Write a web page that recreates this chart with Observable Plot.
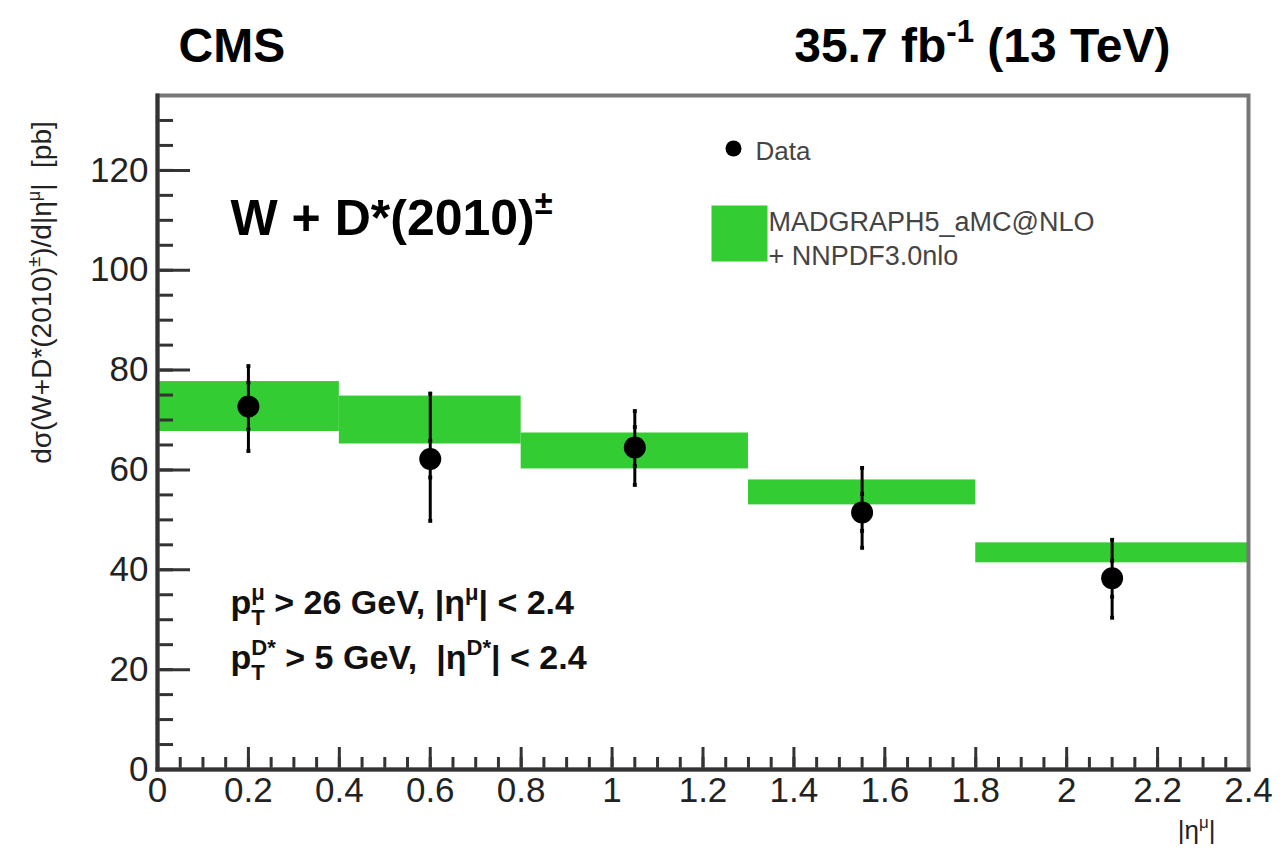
<!DOCTYPE html>
<html>
<head>
<meta charset="utf-8">
<script src="https://cdn.jsdelivr.net/npm/d3@7"></script>
<script src="https://cdn.jsdelivr.net/npm/@observablehq/plot@0.6"></script>
<style>
  body { margin: 0; background: #fff; }
  svg text { white-space: pre; }
</style>
</head>
<body>
<div id="chart"></div>
<script>
// ---- data ----
const binLo = [0, 0.4, 0.8, 1.3, 1.8];
const binHi = [0.4, 0.8, 1.3, 1.8, 2.4];
const mcUp = [77.7, 74.8, 67.4, 58.0, 45.4];
const mcDown = [67.7, 65.2, 60.2, 53.0, 41.4];

const binCenter = [0.2, 0.6, 1.05, 1.55, 2.1];
const dataValue = [72.7, 62.2, 64.5, 51.5, 38.3];
const totalUp = [80.8, 75.3, 71.8, 60.4, 46.0];
const totalDown = [63.8, 49.8, 57.0, 44.4, 30.4];
const statUp = [77.5, 65.8, 68.6, 55.2, 41.8];
const statDown = [68.1, 58.5, 60.8, 47.8, 34.6];

const yMajorTicks = [0, 20, 40, 60, 80, 100, 120];
const yMinorTicks = [0,5,10,15,20,25,30,35,40,45,50,55,60,65,70,75,80,85,90,95,100,105,110,115,120,125,130,135];
const xMajorTicks = [0, 0.2, 0.4, 0.6, 0.8, 1, 1.2, 1.4, 1.6, 1.8, 2, 2.2, 2.4];
const xMinorTicks = [0,0.05,0.1,0.15,0.2,0.25,0.3,0.35,0.4,0.45,0.5,0.55,0.6,0.65,0.7,0.75,0.8,0.85,0.9,0.95,1,1.05,1.1,1.15,1.2,1.25,1.3,1.35,1.4,1.45,1.5,1.55,1.6,1.65,1.7,1.75,1.8,1.85,1.9,1.95,2,2.05,2.1,2.15,2.2,2.25,2.3,2.35,2.4];

// ---- rich text (sub/superscripts) ----
const richText = {
  "§lumi": [["35.7 fb"], ["-1", "sup"], [" (13 TeV)"]],
  "§wd": [["W + D*(2010)"], ["±", "sup"]],
  "§cut1": [["p"], ["T", "sub"], ["μ", "supback"], [" > 26 GeV, |η"], ["μ", "sup"], ["| < 2.4"]],
  "§cut2": [["p"], ["T", "sub"], ["D*", "supback"], [" > 5 GeV,  |η"], ["D*", "sup"], ["| < 2.4"]],
  "§ylab": [["dσ(W+D*(2010)"], ["±", "sup"], [")/d|η"], ["μ", "sup"], ["|  [pb]"]],
  "§xlab": [["|η"], ["μ", "sup"], ["|"]]
};

const FONT = '"Liberation Sans", Arial, Helvetica, sans-serif';
const GREEN = "#33cc33";

const bins = binLo.map((lo, i) => ({lo, hi: binHi[i], up: mcUp[i], down: mcDown[i]}));
const points = binCenter.map((x, i) => ({x, y: dataValue[i], up: totalUp[i], down: totalDown[i], su: statUp[i], sd: statDown[i]}));
const caps = points.flatMap(p => [p.up, p.down, p.su, p.sd].map(y => ({x: p.x, y})));

const blank = () => "";

const plot = Plot.plot({
  width: 1286,
  height: 848,
  marginLeft: 157,
  marginRight: 38,
  marginTop: 95,
  marginBottom: 79,
  style: {fontFamily: FONT, background: "white", overflow: "visible", color: "#222"},
  x: {domain: [0, 2.4]},
  y: {domain: [0, 135]},
  marks: [
    Plot.rect(bins, {x1: "lo", x2: "hi", y1: "down", y2: "up", fill: GREEN}),
    Plot.ruleX(points, {x: "x", y1: "down", y2: "up", stroke: "black", strokeWidth: 3}),
    Plot.dot(caps, {x: "x", y: "y", symbol: "square", r: 2.2, fill: "black"}),
    Plot.dot(points, {x: "x", y: "y", r: 11, fill: "black"}),

    // axes: inward ticks
    Plot.axisY(yMajorTicks, {tickSize: -33, tickFormat: blank, label: null, stroke: "#333", strokeWidth: 3}),
    Plot.axisY(yMinorTicks, {tickSize: -16, tickFormat: blank, label: null, stroke: "#333", strokeWidth: 3}),
    Plot.axisY(yMajorTicks, {tickSize: 0, tickPadding: 9, fontSize: 35, label: null, fill: "#222"}),
    Plot.axisX(xMajorTicks, {tickSize: -22, tickFormat: blank, label: null, stroke: "#333", strokeWidth: 3}),
    Plot.axisX(xMinorTicks, {tickSize: -12, tickFormat: blank, label: null, stroke: "#333", strokeWidth: 3}),
    Plot.axisX(xMajorTicks, {tickSize: 0, tickPadding: 8, fontSize: 35, label: null, fill: "#222", tickFormat: d => String(d)}),

    Plot.frame({stroke: "#777", strokeWidth: 4}),
    Plot.frame({anchor: "left", stroke: "#333", strokeWidth: 4}),
    Plot.frame({anchor: "bottom", stroke: "#333", strokeWidth: 4}),

    // titles
    Plot.text(["CMS"], {frameAnchor: "top-left", text: d => d, dx: 21, dy: -49, textAnchor: "start", lineAnchor: "middle", fontSize: 48, fontWeight: "bold", fill: "black"}),
    Plot.text(["§lumi"], {frameAnchor: "top-right", text: d => d, dx: -78, dy: -49, textAnchor: "end", lineAnchor: "middle", fontSize: 48, fontWeight: "bold", fill: "black"}),

    // annotations
    Plot.text(["§wd"], {frameAnchor: "top-left", text: d => d, dx: 73, dy: 123, textAnchor: "start", lineAnchor: "middle", fontSize: 50, fontWeight: "bold", fill: "black"}),
    Plot.text(["§cut1"], {frameAnchor: "top-left", text: d => d, dx: 73, dy: 508, textAnchor: "start", lineAnchor: "middle", fontSize: 34, fontWeight: "bold", fill: "#111"}),
    Plot.text(["§cut2"], {frameAnchor: "top-left", text: d => d, dx: 73, dy: 563, textAnchor: "start", lineAnchor: "middle", fontSize: 34, fontWeight: "bold", fill: "#111"}),

    // legend
    Plot.dot([0], {frameAnchor: "top-left", dx: 576, dy: 53, r: 8, fill: "black"}),
    Plot.text(["Data"], {frameAnchor: "top-left", text: d => d, dx: 598, dy: 56, textAnchor: "start", lineAnchor: "middle", fontSize: 26, fill: "#444"}),
    Plot.dot([0], {frameAnchor: "top-left", dx: 582, dy: 138, r: 31.6, symbol: "square", fill: GREEN}),
    Plot.text(["MADGRAPH5_aMC@NLO"], {frameAnchor: "top-left", text: d => d, dx: 611, dy: 127, textAnchor: "start", lineAnchor: "middle", fontSize: 27, fill: "#444"}),
    Plot.text(["+ NNPDF3.0nlo"], {frameAnchor: "top-left", text: d => d, dx: 611, dy: 161, textAnchor: "start", lineAnchor: "middle", fontSize: 27, fill: "#444"}),

    // axis titles
    Plot.text(["§ylab"], {frameAnchor: "left", text: d => d, dx: -115, dy: -140, rotate: -90, textAnchor: "middle", lineAnchor: "middle", fontSize: 28, fill: "#222"}),
    Plot.text(["§xlab"], {frameAnchor: "bottom-right", text: d => d, dx: -33, dy: 61, textAnchor: "end", lineAnchor: "middle", fontSize: 26, fill: "#222"})
  ]
});

document.getElementById("chart").append(plot);

// build tspans for sub/superscripts
d3.select(plot).selectAll("text").each(function () {
  const segs = richText[this.textContent];
  if (!segs) return;
  const base = parseFloat(getComputedStyle(this).fontSize) || 30;
  const t = d3.select(this);
  t.text(null);
  let shift = 0;
  const spans = [];
  segs.forEach(([s, kind]) => {
    const ts = t.append("tspan").text(s);
    let target = 0;
    if (kind === "sup" || kind === "supback") { target = -0.42 * base; ts.attr("font-size", 0.65 * base); }
    if (kind === "sub") { target = 0.3 * base; ts.attr("font-size", 0.65 * base); }
    ts.attr("dy", target - shift);
    shift = target;
    spans.push({ts, kind});
  });
  for (let i = 0; i < spans.length; i++) {
    if (spans[i].kind === "supback" && i > 0) {
      const wSub = spans[i - 1].ts.node().getComputedTextLength();
      const wSup = spans[i].ts.node().getComputedTextLength();
      spans[i].ts.attr("dx", -wSub);
      if (i + 1 < spans.length && wSub > wSup) spans[i + 1].ts.attr("dx", wSub - wSup);
    }
  }
});
</script>
</body>
</html>
